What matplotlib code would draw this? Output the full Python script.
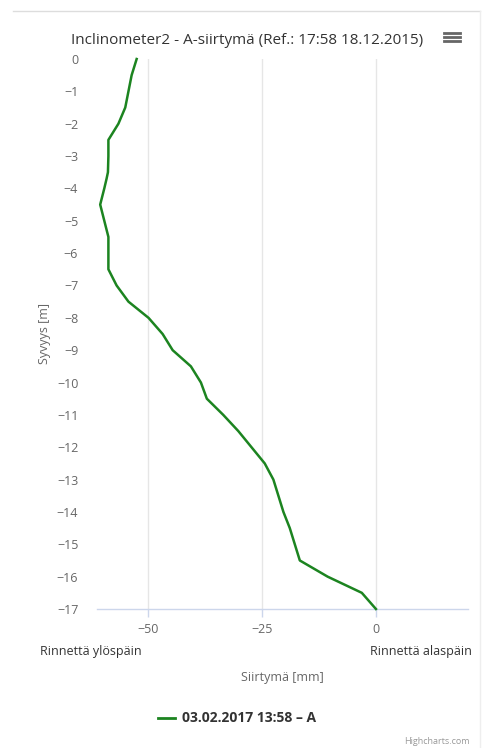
import matplotlib

matplotlib.use("Agg")
import matplotlib.pyplot as plt
from matplotlib.lines import Line2D

# Depth profile (m, negative downwards) and displacement (mm)
depth = [0, -0.5, -1, -1.5, -2, -2.5, -3, -3.5, -3.7, -4, -4.5, -5, -5.5, -6,
         -6.5, -7, -7.5, -8, -8.5, -9, -9.5, -10, -10.5, -11, -11.5, -12,
         -12.5, -13, -13.5, -14, -14.5, -15, -15.5, -16, -16.5, -17]
displacement = [-52.5, -53.6, -54.3, -55.0, -56.5, -58.7, -58.7, -58.8, -59.1,
                -59.6, -60.5, -59.6, -58.7, -58.7, -58.7, -56.9, -54.3, -49.9,
                -46.8, -44.6, -40.6, -38.4, -37.1, -33.5, -30.2, -27.3, -24.4,
                -22.5, -21.4, -20.3, -18.9, -17.8, -16.7, -10.6, -3.1, 0.0]

x_ticks = [-50, -25, 0]
y_ticks = list(range(0, -18, -1))
series_label = "03.02.2017 13:58 – A"
title = "Inclinometer2 - A-siirtymä (Ref.: 17:58 18.12.2015)"

W, H = 482, 748
plt.rcParams["font.family"] = ["Open Sans", "DejaVu Sans"]

fig = plt.figure(figsize=(W / 100, H / 100), dpi=100)
ax = fig.add_axes([97 / W, 1 - 609 / H, (468 - 97) / W, (609 - 59) / H])

ax.plot(displacement, depth, color="#1c8420", linewidth=1.8,
        solid_joinstyle="round", clip_on=False, zorder=3)

ax.set_xlim(-61.2, 20.2)
ax.set_ylim(-17, 0)
ax.set_xticks(x_ticks)
ax.set_yticks(y_ticks)
ax.set_yticklabels([str(t).replace("-", "−") for t in y_ticks])
ax.set_xticklabels([str(t).replace("-", "−") for t in x_ticks])
ax.grid(axis="x", color="#e6e6e6", linewidth=1)
ax.set_axisbelow(True)

for side in ("top", "right", "left"):
    ax.spines[side].set_visible(False)
ax.spines["bottom"].set_color("#ccd6eb")
ax.spines["bottom"].set_linewidth(1)

ax.tick_params(axis="x", colors="#ccd6eb", length=6, width=1, pad=4,
               labelcolor="#666666", labelsize=9)
ax.tick_params(axis="y", length=0, pad=13.5, labelcolor="#666666", labelsize=9)
ax.set_ylabel("Syvyys [m]", color="#666666", fontsize=9, labelpad=4)

# chart texts around the plot area
fig.text(247 / W, 1 - 40 / H, title, ha="center", va="center",
         fontsize=11, color="#333333")
fig.text(40 / W, 1 - 652 / H, "Rinnettä ylöspäin", ha="left", va="center",
         fontsize=9, color="#333333")
fig.text(472 / W, 1 - 652 / H, "Rinnettä alaspäin", ha="right", va="center",
         fontsize=9, color="#333333")
fig.text(282 / W, 1 - 678 / H, "Siirtymä [mm]", ha="center", va="center",
         fontsize=9, color="#666666")
fig.text(182 / W, 1 - 718 / H, series_label, ha="left", va="center",
         fontsize=10, color="#333333", fontweight="bold")
fig.add_artist(Line2D([158 / W, 175 / W], [1 - 718 / H, 1 - 718 / H],
                      color="#1c8420", linewidth=2))
fig.text(470 / W, 1 - 742 / H, "Highcharts.com", ha="right", va="center",
         fontsize=6.5, color="#999999")

# context menu icon
for dy in (33, 37, 41):
    fig.add_artist(Line2D([444 / W, 460 / W], [1 - dy / H, 1 - dy / H],
                          color="#666666", linewidth=2))

# container border
fig.add_artist(Line2D([13 / W, 480 / W], [1 - 11 / H, 1 - 11 / H],
                      color="#dddddd", linewidth=1))
fig.add_artist(Line2D([480 / W, 480 / W], [1 - 11 / H, 0],
                      color="#eeeeee", linewidth=1))

fig.savefig("out.png", dpi=100)
plt.close(fig)
